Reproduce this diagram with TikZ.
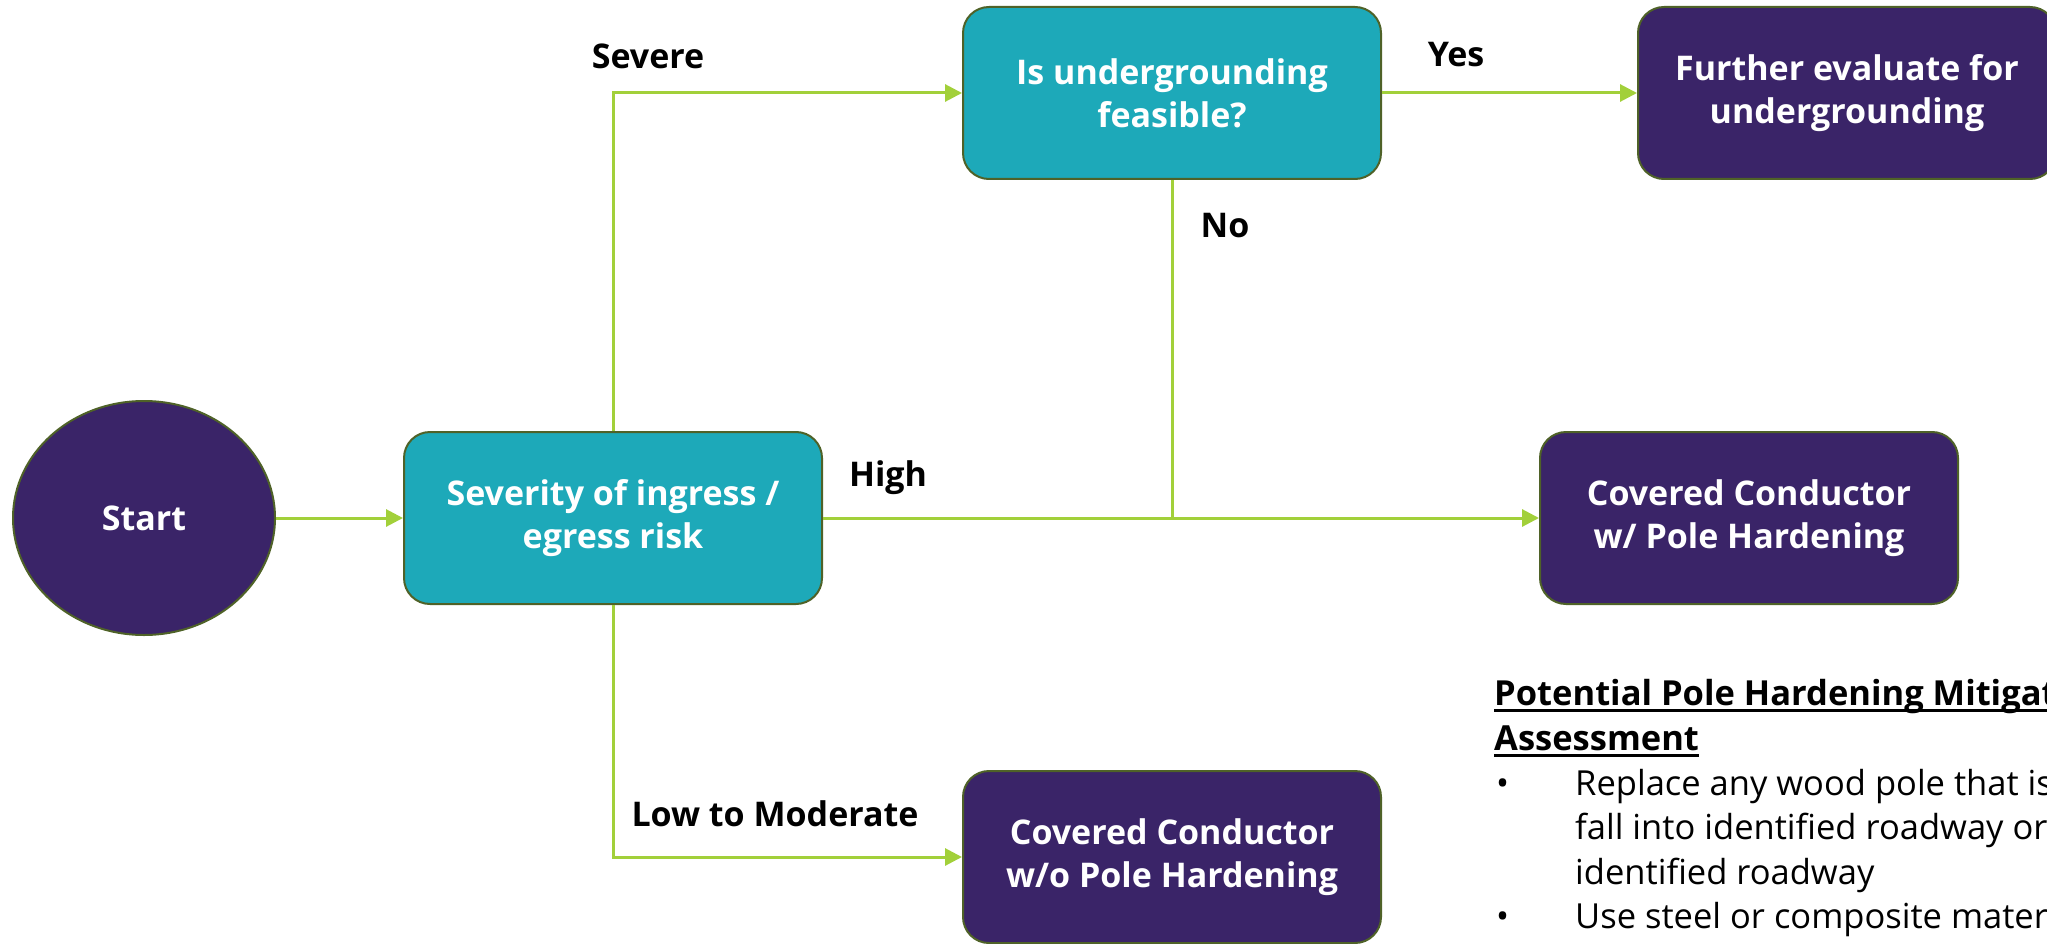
\documentclass[tikz,border=0pt]{standalone}
\usepackage{fontspec}
\setmainfont{Open Sans}
\usetikzlibrary{shapes.geometric,arrows.meta}
\definecolor{teal1}{HTML}{1DA9B9}
\definecolor{purp}{HTML}{3A2468}
\definecolor{edge}{HTML}{4F6228}
\definecolor{conn}{HTML}{A2D03A}
\tikzset{
  box/.style={draw=edge, line width=2pt, rounded corners=26pt, minimum width=418pt, minimum height=172pt, align=center, text=white, font=\fontsize{34}{43}\selectfont\bfseries, inner sep=0pt},
  tealbox/.style={box, fill=teal1},
  purpbox/.style={box, fill=purp},
  conn/.style={draw=conn, line width=3pt},
  arr/.style={conn, -{Triangle[length=17pt,width=17pt]}},
  lbl/.style={font=\fontsize{34}{43}\selectfont\bfseries, text=black, inner sep=0pt},
  body/.style={font=\fontsize{34.5}{44}\selectfont, text=black, inner sep=0pt, anchor=base west},
  head/.style={body, font=\fontsize{34.5}{44}\selectfont\bfseries},
}
\begin{document}
\begin{tikzpicture}[x=1pt,y=-1pt]
\useasboundingbox (0,0) rectangle (2047,944);
\clip (0,0) rectangle (2047,944);
\node[ellipse, draw=edge, line width=2pt, fill=purp, minimum width=262pt, minimum height=234pt, text=white, font=\fontsize{34}{43}\selectfont\bfseries, inner sep=0pt] (start) at (144,518) {Start};
\node[tealbox] (sev) at (613,518) {Severity of ingress /\\egress risk};
\node[tealbox] (ug) at (1172,93) {Is undergrounding\\feasible?};
\node[purpbox] (fe) at (1847,93) {Further evaluate for\\undergrounding};
\node[purpbox] (cw) at (1749,518) {Covered Conductor\\w/ Pole Hardening};
\node[purpbox] (cwo) at (1172,857) {Covered Conductor\\w/o Pole Hardening};

\draw[arr] (start.east) -- (sev.west);
\draw[arr] (sev.north) |- (ug.west);
\draw[arr] (ug.east) -- (fe.west);
\draw[conn] (ug.south) -- (ug.south |- sev.east);
\draw[arr] (sev.east) -- (cw.west);
\draw[arr] (sev.south) |- (cwo.west);

\node[lbl] (lsev) at (648,56) {Severe};
\node[lbl] (lyes) at (1456,55) {Yes};
\node[lbl] (lno) at (1225,226) {No};
\node[lbl] (lhigh) at (888,478) {High};
\node[lbl] (llow) at (775,814) {Low to Moderate};

\node[head] (h1) at (1494,705) {Potential Pole Hardening Mitigation};
\node[head] (h2) at (1494,750) {Assessment};
\draw[line width=3pt] ([yshift=-5pt]h1.base west) -- ([yshift=-5pt]h1.base east);
\draw[line width=3pt] ([yshift=-5pt]h2.base west) -- ([yshift=-5pt]h2.base east);
\node[body] (b1) at (1496,795) {\textbullet};
\node[body] (t1) at (1575,795) {Replace any wood pole that is};
\node[body] (t2) at (1575,839) {fall into identified roadway or};
\node[body] (t3) at (1575,884) {identified roadway};
\node[body] (b2) at (1496,928) {\textbullet};
\node[body] (t4) at (1575,928) {Use steel or composite material};
\end{tikzpicture}
\end{document}
